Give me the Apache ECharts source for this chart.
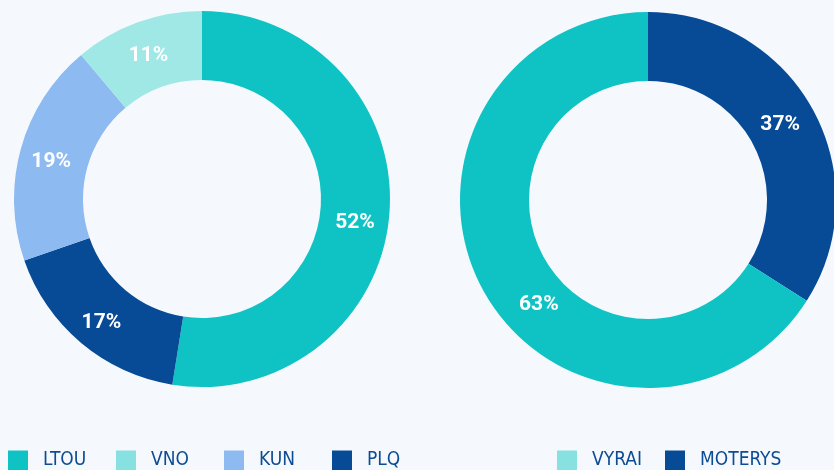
<!DOCTYPE html>
<html>
<head>
<meta charset="utf-8">
<script src="https://cdn.jsdelivr.net/npm/echarts@6/dist/echarts.min.js"></script>
<style>
  html, body { margin: 0; padding: 0; background: #f5f9fe; }
  #donuts { width: 834px; height: 470px; }
</style>
</head>
<body>
<div id="donuts"></div>
<script>
// left donut, clockwise from top
const leftNames = ['LTOU', 'PLQ', 'KUN', 'VNO']
const leftValues = [52, 17, 19, 11]
const leftLegend = ['LTOU', 'VNO', 'KUN', 'PLQ']

// right donut, clockwise from top
const rightNames = ['MOTERYS', 'VYRAI']
const rightValues = [34, 66]
const rightLabels = ['37%', '63%']
const rightLegend = ['VYRAI', 'MOTERYS']

const COLORS = {
  LTOU: '#0fc3c5',
  VNO: '#a0e8e6',
  KUN: '#8dbaf1',
  PLQ: '#074a95',
  VYRAI: '#0fc3c5',
  MOTERYS: '#074a95'
}
const LEGEND_COLORS = { VNO: '#88e1e1', VYRAI: '#88e1e1' }
// the reference puts some labels a bit off the slice middle
const LABEL_SHIFT = { VYRAI: [28, 29], LTOU: [-3, 11], MOTERYS: [-5, 0] }

const labelFont = 'Roboto, "DejaVu Sans", sans-serif'
const legendFont = '"DejaVu Sans Condensed", "DejaVu Sans", sans-serif'

function legendItems (names) {
  return names.map(n => LEGEND_COLORS[n] ? { name: n, itemStyle: { color: LEGEND_COLORS[n] } } : { name: n })
}

function legendBox (left, names) {
  return {
    left: left,
    top: 450,
    padding: 0,
    orient: 'horizontal',
    icon: 'rect',
    itemWidth: 20,
    itemHeight: 20,
    itemGap: 10,
    selectedMode: false,
    textStyle: {
      color: '#0d4c95',
      fontSize: 19,
      fontFamily: legendFont,
      width: 63,
      // transparent box so the fixed width counts in the layout
      backgroundColor: 'rgba(0,0,0,0)',
      padding: [2, 0, 0, 10]
    },
    data: legendItems(names)
  }
}

function donut (center, names, values, labels) {
  return {
    type: 'pie',
    center: center,
    radius: [119, 188],
    startAngle: 90,
    clockwise: true,
    silent: true,
    avoidLabelOverlap: false,
    label: {
      show: true,
      position: 'inside',
      color: '#fff',
      fontSize: 21,
      fontWeight: 'bold',
      fontFamily: labelFont,
      offset: [0, 4],
      formatter: p => labels ? labels[p.dataIndex] : p.value + '%'
    },
    labelLine: { show: false },
    emphasis: { disabled: true },
    data: names.map((n, i) => {
      let item = { name: n, value: values[i], itemStyle: { color: COLORS[n] } }
      if (LABEL_SHIFT[n]) item.label = { offset: LABEL_SHIFT[n] }
      return item
    })
  }
}

const chart = echarts.init(document.getElementById('donuts'))
chart.setOption({
  backgroundColor: '#f5f9fe',
  animation: false,
  legend: [legendBox(8, leftLegend), legendBox(557, rightLegend)],
  series: [
    donut([202, 199], leftNames, leftValues, null),
    donut([648, 200], rightNames, rightValues, rightLabels)
  ]
})
</script>
</body>
</html>
